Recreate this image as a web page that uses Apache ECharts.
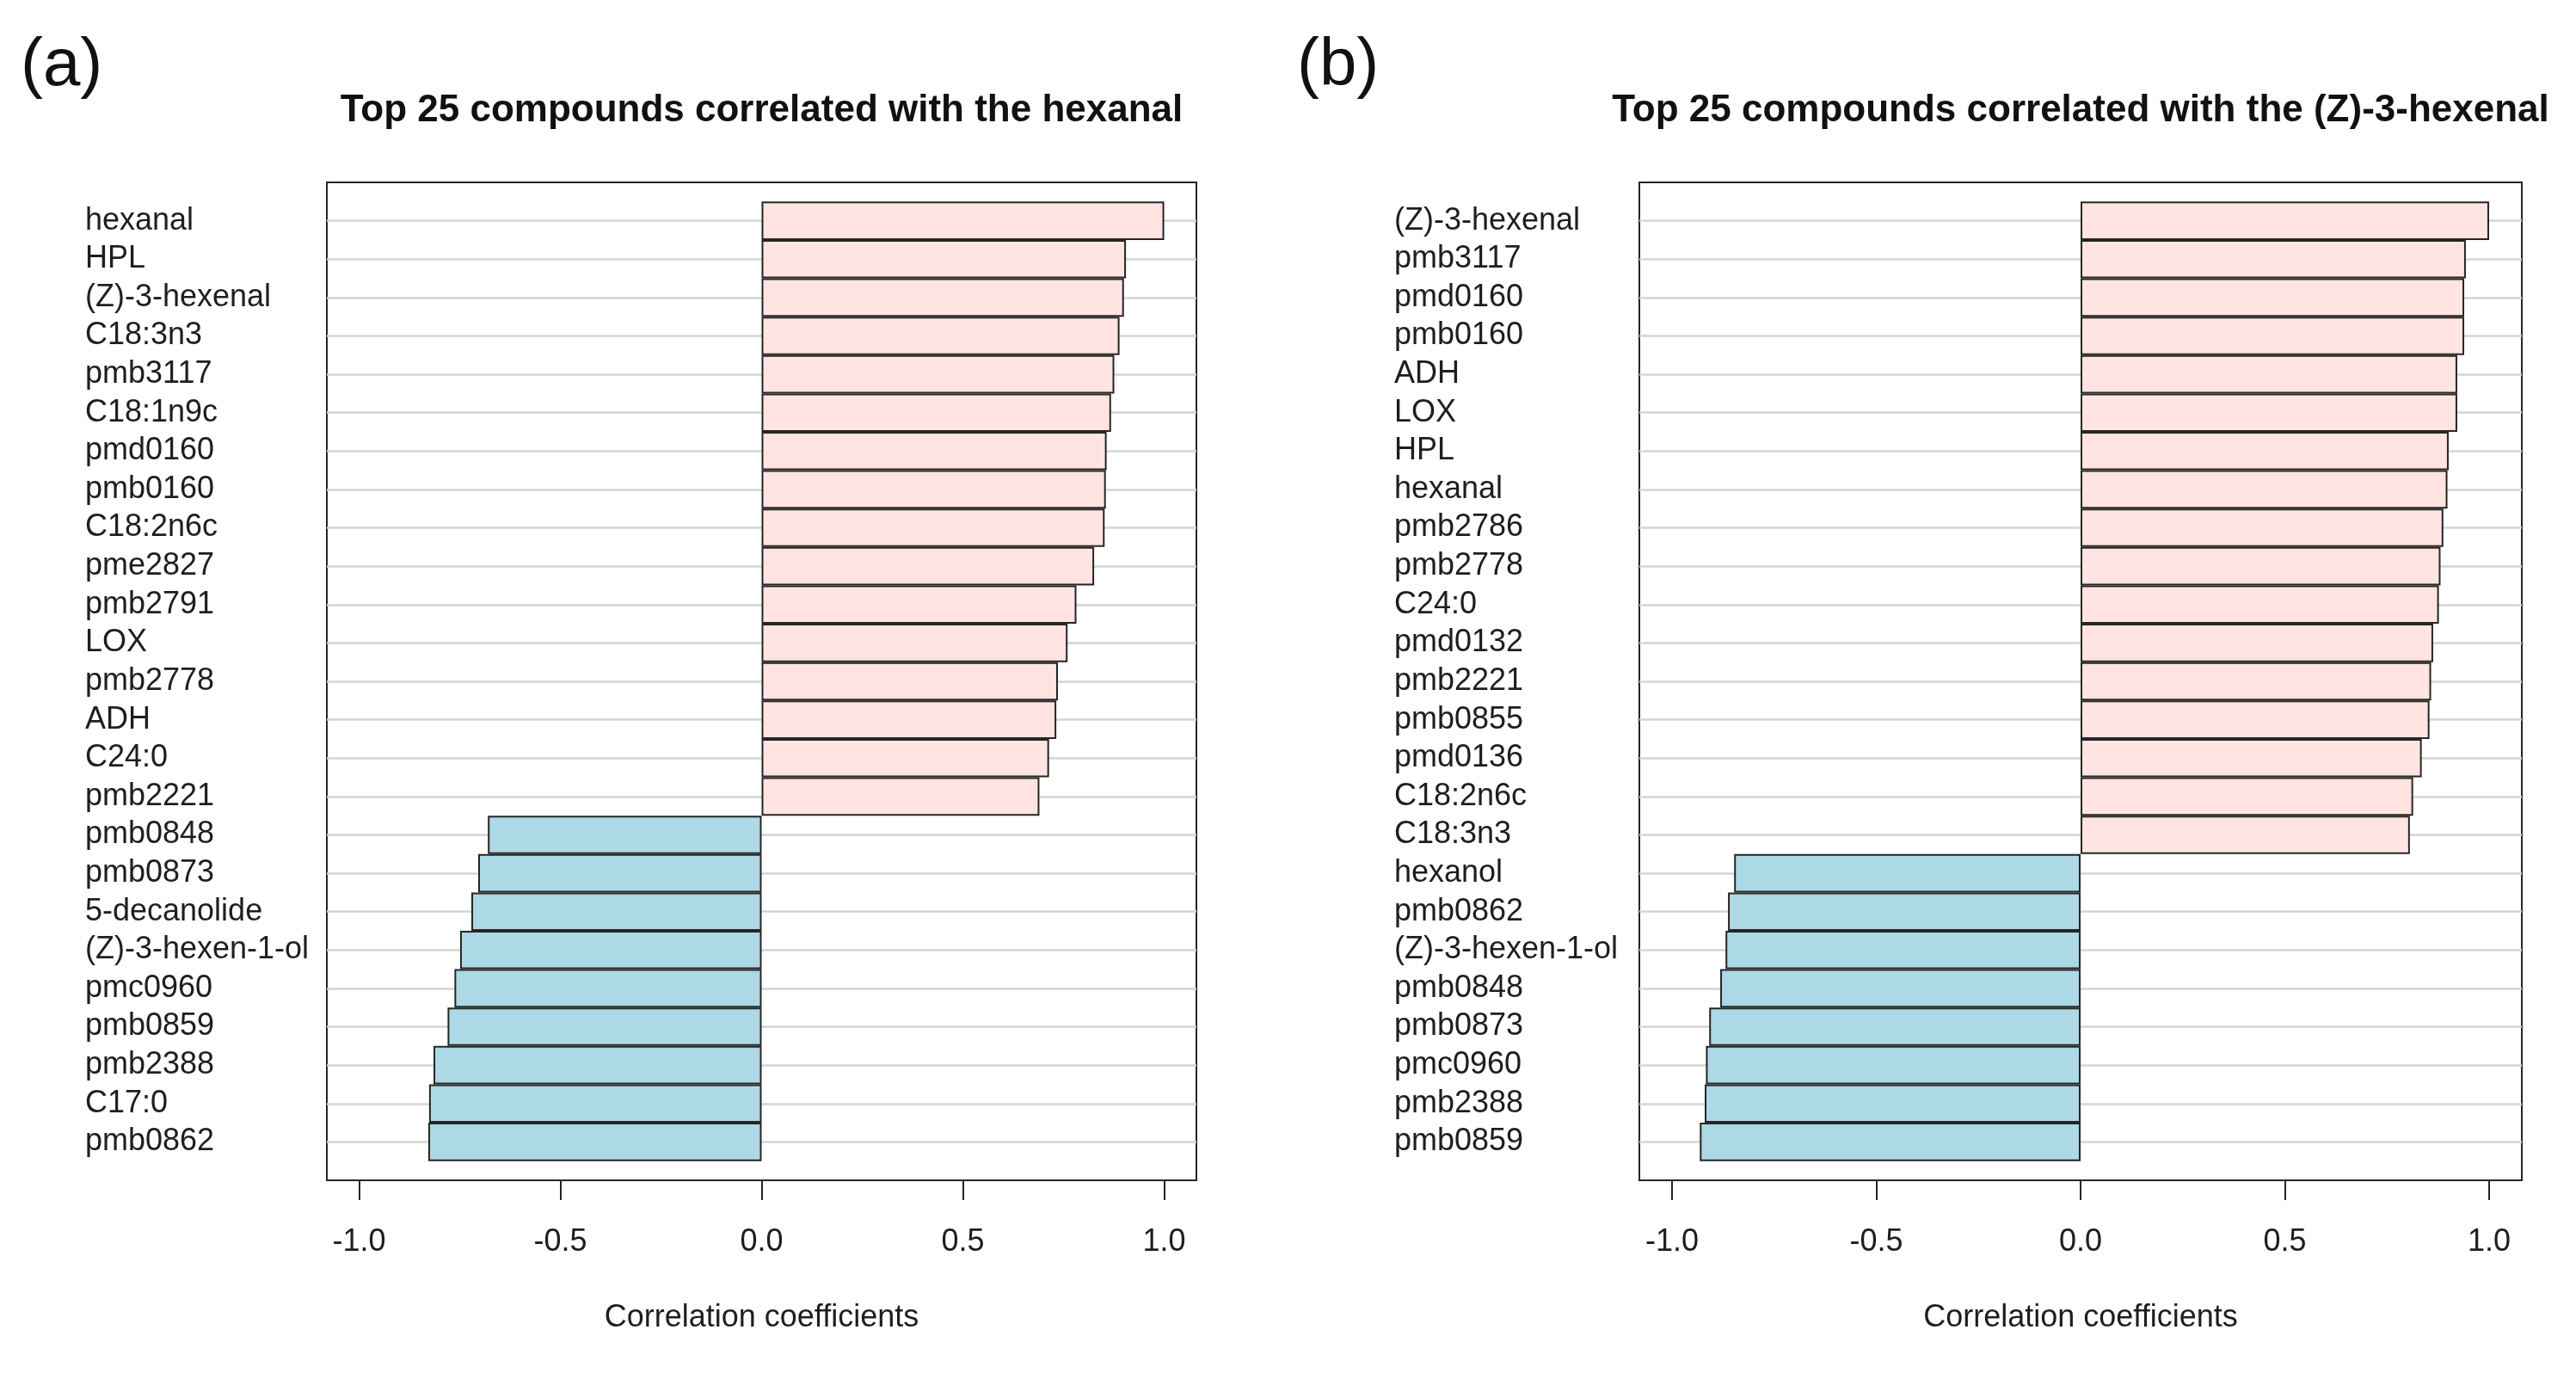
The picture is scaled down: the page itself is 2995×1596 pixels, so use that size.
<!DOCTYPE html>
<html>
<head>
<meta charset="utf-8">
<script src="https://cdn.jsdelivr.net/npm/echarts@6/dist/echarts.min.js"></script>
<style>
html,body{margin:0;padding:0;background:#fff;}
#chart{width:2995px;height:1596px;}
</style>
</head>
<body>
<div id="chart"></div>
<script>
// ---------- data ----------
const catsA = ['hexanal','HPL','(Z)-3-hexenal','C18:3n3','pmb3117','C18:1n9c','pmd0160','pmb0160','C18:2n6c','pme2827','pmb2791','LOX','pmb2778','ADH','C24:0','pmb2221','pmb0848','pmb0873','5-decanolide','(Z)-3-hexen-1-ol','pmc0960','pmb0859','pmb2388','C17:0','pmb0862'];
const valsA = [1.0,0.905,0.900,0.889,0.876,0.868,0.857,0.855,0.852,0.826,0.782,0.760,0.736,0.732,0.714,0.690,-0.680,-0.704,-0.721,-0.749,-0.763,-0.780,-0.815,-0.826,-0.828];

const catsB = ['(Z)-3-hexenal','pmb3117','pmd0160','pmb0160','ADH','LOX','HPL','hexanal','pmb2786','pmb2778','C24:0','pmd0132','pmb2221','pmb0855','pmd0136','C18:2n6c','C18:3n3','hexanol','pmb0862','(Z)-3-hexen-1-ol','pmb0848','pmb0873','pmc0960','pmb2388','pmb0859'];
const valsB = [1.0,0.943,0.939,0.939,0.922,0.922,0.901,0.898,0.888,0.881,0.877,0.863,0.858,0.854,0.835,0.814,0.806,-0.848,-0.863,-0.869,-0.882,-0.909,-0.917,-0.920,-0.932];

const tickValues = [-1, -0.5, 0, 0.5, 1];
const titleA = 'Top 25 compounds correlated with the hexanal';
const titleB = 'Top 25 compounds correlated with the (Z)-3-hexenal';
const panelLabels = ['(a)', '(b)'];
const xName = 'Correlation coefficients';

// ---------- styling / layout ----------
const FONT = "'Liberation Sans', Arial, sans-serif";
const TXT = '#1e1e1e';
const EDGE = '#262626';
const POS = '#FFE4E1';
const NEG = '#ADD8E6';
const XMIN = -1.08, XMAX = 1.08;

const boxTop = 212, boxH = 1160;
const nRows = 25;
const band = boxH / (nRows + 1);
const panels = [
  {left: 380, width: 1011, labelX: 99, cats: catsA, vals: valsA, title: titleA, tag: panelLabels[0], tagX: 24},
  {left: 1906, width: 1026, labelX: 1621, cats: catsB, vals: valsB, title: titleB, tag: panelLabels[1], tagX: 1508}
];

const grid = [], xAxis = [], yAxis = [], series = [], graphic = [];
panels.forEach((p, i) => {
  const gBox = grid.length;
  grid.push({left: p.left, top: boxTop, width: p.width, height: boxH, show: true,
    borderColor: EDGE, borderWidth: 2, backgroundColor: 'transparent'});
  const gBar = grid.length;
  grid.push({left: p.left, top: boxTop + band, width: p.width, height: band * (nRows - 1)});

  xAxis.push({gridIndex: gBox, type: 'value', min: XMIN, max: XMAX,
    axisLine: {show: false}, splitLine: {show: false},
    axisTick: {show: true, customValues: tickValues, length: 23, lineStyle: {color: EDGE, width: 2}},
    axisLabel: {customValues: tickValues, formatter: v => (+v).toFixed(1), fontSize: 36, margin: 54,
      color: TXT, fontFamily: FONT},
    name: xName, nameLocation: 'middle', nameGap: 142,
    nameTextStyle: {fontSize: 36, color: TXT, fontFamily: FONT}});
  yAxis.push({gridIndex: gBox, type: 'value', min: 0, max: 1, show: false});

  const xi = xAxis.length;
  xAxis.push({gridIndex: gBar, type: 'value', min: XMIN, max: XMAX, show: false, splitLine: {show: false}});
  const yi = yAxis.length;
  yAxis.push({gridIndex: gBar, type: 'category', data: p.cats, inverse: true, boundaryGap: false,
    axisLine: {show: false}, axisTick: {show: false},
    axisLabel: {interval: 0, align: 'left', margin: p.left - p.labelX, fontSize: 36, color: TXT, fontFamily: FONT},
    splitLine: {show: true, interval: 0, lineStyle: {color: '#d4d4d4', width: 2.5}}});

  series.push({type: 'bar', xAxisIndex: xi, yAxisIndex: yi, data: p.vals, clip: false,
    barCategoryGap: '0%',
    itemStyle: {color: d => d.value >= 0 ? POS : NEG, borderColor: EDGE, borderWidth: 2},
    emphasis: {disabled: true}, animation: false});

  graphic.push({type: 'text', x: p.left + p.width / 2, y: 129,
    style: {text: p.title, fontSize: 44, fontWeight: 'bold', fontFamily: FONT, fill: '#111',
      align: 'center', verticalAlign: 'middle'}});
  graphic.push({type: 'text', x: p.tagX, y: 77,
    style: {text: p.tag, fontSize: 78, fontWeight: 'normal', fontFamily: FONT, fill: '#111',
      align: 'left', verticalAlign: 'middle'}});
});

const chart = echarts.init(document.getElementById('chart'), null, {renderer: 'canvas'});
chart.setOption({
  backgroundColor: '#fff',
  animation: false,
  textStyle: {fontFamily: FONT},
  grid, xAxis, yAxis, series, graphic
});
</script>
</body>
</html>
